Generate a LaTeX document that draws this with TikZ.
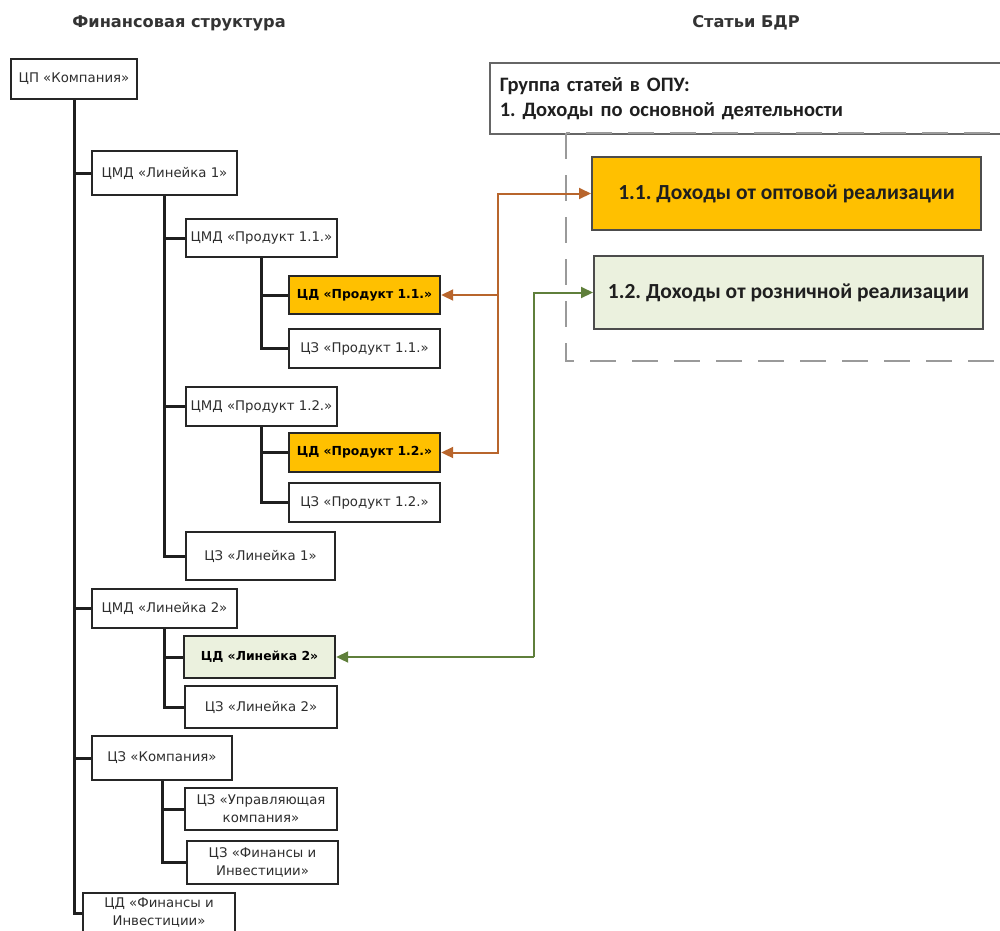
\documentclass[tikz,border=0pt]{standalone}
\usepackage{fontspec}
\setmainfont{DejaVu Sans}
\newfontfamily\calib{Carlito}
\usetikzlibrary{arrows.meta}
\frenchspacing

\definecolor{gold}{HTML}{FFC000}
\definecolor{palegreen}{HTML}{EBF1DE}
\definecolor{rust}{HTML}{B8652C}
\definecolor{linkgreen}{HTML}{5F7F3B}
\definecolor{frame}{HTML}{9A9A9A}

\tikzset{
  tbox/.style={draw=black!85, line width=2.4pt, fill=white, inner sep=2pt,
    font=\fontsize{13.3}{18}\selectfont, text=black!82, align=center},
  cdbox/.style={tbox, font=\fontsize{12.4}{18}\selectfont\bfseries, text=black},
  tline/.style={line width=3pt, draw=black!88},
  itembox/.style={draw=black!70, line width=2pt, inner sep=0pt,
    font=\calib\fontsize{21.5}{24}\selectfont\bfseries, text=black!88},
  tip/.style={-{Triangle[length=12pt,width=11pt]}},
  olink/.style={tip, draw=rust, line width=2pt},
  glink/.style={tip, draw=linkgreen, line width=2pt},
  heading/.style={font=\fontsize{16.2}{18}\selectfont\bfseries, text=black!80},
}

\begin{document}
\begin{tikzpicture}[x=1pt, y=-1pt]
\useasboundingbox (0,0) rectangle (1000,930);

% column headings
\node[heading] (hfin) at (179,23) {Финансовая структура};
\node[heading] (hbdr) at (746,23) {Статьи БДР};

% income statement group
\node[draw=black!60, line width=1.6pt, fill=white, minimum width=530pt, minimum height=71pt,
      text width=510pt, inner xsep=10pt, align=left, anchor=north west,
      font=\calib\fontsize{20.5}{25}\selectfont\bfseries, text=black!88]
  (grp) at (489,62) {Группа статей в ОПУ:\\1. Доходы по основной деятельности};
\draw[frame, line width=2pt, dash pattern=on 26pt off 16pt] (566,133) rectangle (1012,361);

\node[itembox, fill=gold, minimum width=389pt, minimum height=73pt] (b11) at (786.5,193.5)
  {1.1. Доходы от оптовой реализации};
\node[itembox, fill=palegreen, minimum width=389pt, minimum height=73pt] (b12) at (788.5,292.5)
  {1.2. Доходы от розничной реализации};

% financial structure tree
\node[tbox, minimum width=126pt, minimum height=40pt] (cp)   at (74,79)      {ЦП «Компания»};
\node[tbox, minimum width=145pt, minimum height=44pt] (lin1) at (164.5,173)  {ЦМД «Линейка 1»};
\node[tbox, minimum width=151pt, minimum height=38pt] (p11)  at (261.5,238)  {ЦМД «Продукт 1.1.»};
\node[cdbox, fill=gold, minimum width=151pt, minimum height=38pt] (cd11) at (364.5,295) {ЦД «Продукт 1.1.»};
\node[tbox, minimum width=151pt, minimum height=39pt] (cz11) at (364.5,348.5) {ЦЗ «Продукт 1.1.»};
\node[tbox, minimum width=151pt, minimum height=39pt] (p12)  at (261.5,406.5) {ЦМД «Продукт 1.2.»};
\node[cdbox, fill=gold, minimum width=151pt, minimum height=39pt] (cd12) at (364.5,452.5) {ЦД «Продукт 1.2.»};
\node[tbox, minimum width=151pt, minimum height=39pt] (cz12) at (364.5,502.5) {ЦЗ «Продукт 1.2.»};
\node[tbox, minimum width=149pt, minimum height=48pt] (czl1) at (260.5,556)  {ЦЗ «Линейка 1»};
\node[tbox, minimum width=145pt, minimum height=39pt] (lin2) at (164.5,608.5) {ЦМД «Линейка 2»};
\node[cdbox, fill=palegreen, minimum width=151pt, minimum height=42pt] (cdl2) at (259.5,657) {ЦД «Линейка 2»};
\node[tbox, minimum width=152pt, minimum height=42pt] (czl2) at (261,707)    {ЦЗ «Линейка 2»};
\node[tbox, minimum width=140pt, minimum height=44pt] (czk)  at (162,758)    {ЦЗ «Компания»};
\node[tbox, minimum width=152pt, minimum height=42pt] (czuk) at (261,809)    {ЦЗ «Управляющая\\компания»};
\node[tbox, minimum width=151pt, minimum height=43pt] (czfi) at (262.5,862.5) {ЦЗ «Финансы и\\Инвестиции»};
\node[tbox, minimum width=152pt, minimum height=40pt] (cdfi) at (159,913)    {ЦД «Финансы и\\Инвестиции»};

% tree connectors
\foreach \child in {lin1, lin2, czk, cdfi} \draw[tline] (cp.south) |- (\child.west);
\foreach \child in {p11, p12, czl1} \draw[tline] (lin1.south) |- (\child.west);
\foreach \child in {cd11, cz11} \draw[tline] (p11.south) |- (\child.west);
\foreach \child in {cd12, cz12} \draw[tline] (p12.south) |- (\child.west);
\foreach \child in {cdl2, czl2} \draw[tline] (lin2.south) |- (\child.west);
\foreach \child in {czuk, czfi} \draw[tline] (czk.south) |- (\child.west);

% links between responsibility centres and items
\coordinate (oj) at (498,0);
\coordinate (gj) at (534,0);
\draw[olink] (cd11.east -| oj) |- (b11.west);
\draw[olink] (cd11.east -| oj) -- (cd11.east);
\draw[olink] (b11.west -| oj) |- (cd12.east);
\draw[glink] (cdl2.east -| gj) |- (b12.west);
\draw[glink] (cdl2.east -| gj) -- (cdl2.east);
\end{tikzpicture}
\end{document}
